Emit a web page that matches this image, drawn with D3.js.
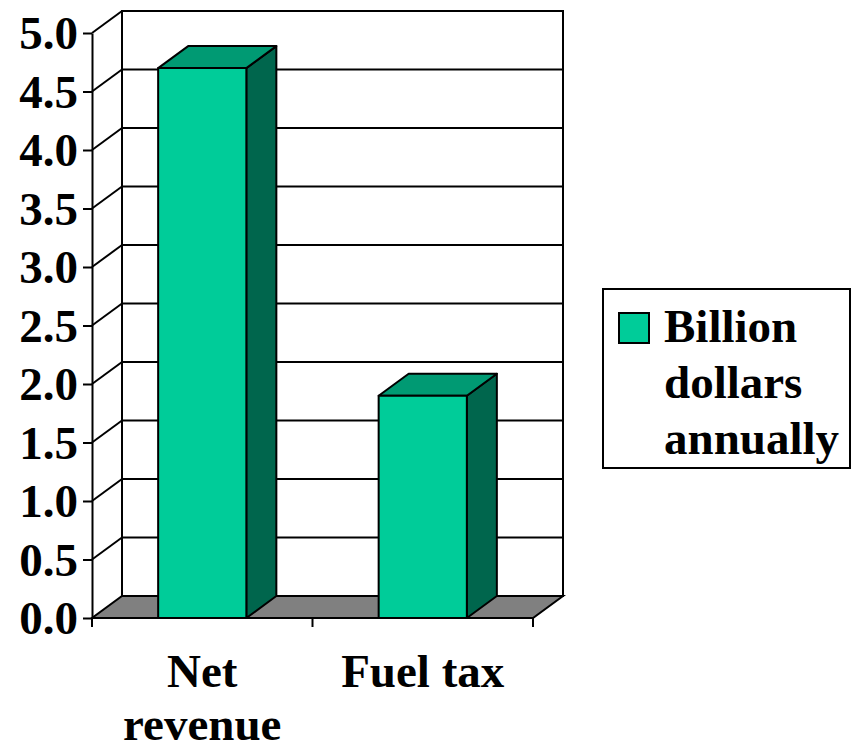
<!DOCTYPE html>
<html>
<head>
<meta charset="utf-8">
<script src="https://cdn.jsdelivr.net/npm/d3@7"></script>
<style>
  body { margin: 0; background: #fff; }
</style>
</head>
<body>
<div id="chart"></div>
<script>
const categories = [["Net", "revenue"], ["Fuel tax"]];
const values = [4.7, 1.9];
const yTicks = [0, 0.5, 1, 1.5, 2, 2.5, 3, 3.5, 4, 4.5, 5];
const seriesName = ["Billion", "dollars", "annually"];

const width = 853, height = 747;
const depthX = 30, depthY = -22;
const serif = "Liberation Serif";
const front = "#00cc99", topc = "#009a73", side = "#00664d", floorc = "#808080";

const svg = d3.select("#chart").append("svg")
    .attr("width", width)
    .attr("height", height);

const y = d3.scaleLinear().domain([0, 5]).range([618, 33]);
const x = d3.scaleBand()
    .domain(categories.map((d, i) => i))
    .range([92, 533])
    .paddingInner(0.6)
    .paddingOuter(0.3);

const x0 = 92, x1 = 533, y0 = y(0);

// back wall
const wall = svg.append("g").attr("stroke", "#000").attr("stroke-width", 2).attr("fill", "none");
wall.append("rect")
    .attr("x", x0 + depthX).attr("y", y(5) + depthY)
    .attr("width", x1 - x0).attr("height", y0 - y(5))
    .attr("fill", "#fff");

// gridlines on back wall and side wall
wall.selectAll("line.grid")
  .data(yTicks.filter(d => d > 0))
  .join("line")
    .attr("x1", x0 + depthX).attr("x2", x1 + depthX)
    .attr("y1", d => y(d) + depthY).attr("y2", d => y(d) + depthY);

wall.selectAll("line.diag")
  .data(yTicks.filter(d => d > 0))
  .join("line")
    .attr("x1", x0).attr("x2", x0 + depthX)
    .attr("y1", d => y(d)).attr("y2", d => y(d) + depthY);

// floor
svg.append("polygon")
    .attr("points", [[x0, y0], [x1, y0], [x1 + depthX, y0 + depthY], [x0 + depthX, y0 + depthY]].join(" "))
    .attr("fill", floorc)
    .attr("stroke", "#000")
    .attr("stroke-width", 2);

// bars
const bars = svg.append("g").attr("stroke", "#000").attr("stroke-width", 2).attr("stroke-linejoin", "round");
values.forEach((v, i) => {
  const bx = x(i), bw = x.bandwidth(), by = y(v);
  bars.append("polygon")
      .attr("points", [[bx + bw, by], [bx + bw + depthX, by + depthY], [bx + bw + depthX, y0 + depthY], [bx + bw, y0]].join(" "))
      .attr("fill", side);
  bars.append("polygon")
      .attr("points", [[bx, by], [bx + depthX, by + depthY], [bx + bw + depthX, by + depthY], [bx + bw, by]].join(" "))
      .attr("fill", topc);
  bars.append("rect")
      .attr("x", bx).attr("y", by)
      .attr("width", bw).attr("height", y0 - by)
      .attr("fill", front);
});

// y axis
const yAxis = svg.append("g")
    .attr("transform", `translate(${x0},0)`)
    .call(d3.axisLeft(y).tickValues(yTicks).tickFormat(d3.format(".1f")).tickSize(9).tickSizeOuter(0).tickPadding(5));
yAxis.select(".domain").attr("stroke", "#000").attr("stroke-width", 2);
yAxis.selectAll(".tick line").attr("stroke", "#000").attr("stroke-width", 2);
yAxis.selectAll(".tick text")
    .attr("fill", "#000")
    .attr("dy", "0.34em")
    .style("font-family", serif)
    .style("font-weight", "bold")
    .style("font-size", "47px");

// x axis ticks at category boundaries
const xTicks = [x0, x0 + (x1 - x0) / 2, x1];
svg.append("g").selectAll("line")
  .data(xTicks)
  .join("line")
    .attr("x1", d => d).attr("x2", d => d)
    .attr("y1", y0).attr("y2", y0 + 9)
    .attr("stroke", "#000").attr("stroke-width", 2);

// category labels
const labels = svg.append("g").attr("text-anchor", "middle");
categories.forEach((lines, i) => {
  const cx = x(i) + x.bandwidth() / 2;
  const t = labels.append("text").attr("x", cx).attr("y", 687)
      .style("font-family", serif)
      .style("font-weight", "bold")
      .style("font-size", "47px");
  lines.forEach((s, j) => {
    t.append("tspan").attr("x", cx).attr("dy", j === 0 ? 0 : 53).text(s);
  });
});

// legend
const legend = svg.append("g");
legend.append("rect")
    .attr("x", 603).attr("y", 289).attr("width", 247).attr("height", 179)
    .attr("fill", "#fff").attr("stroke", "#000").attr("stroke-width", 2);
legend.append("rect")
    .attr("x", 619).attr("y", 313).attr("width", 30).attr("height", 30)
    .attr("fill", front).attr("stroke", "#000").attr("stroke-width", 2);
const lt = legend.append("text")
    .attr("x", 664).attr("y", 342)
    .style("font-family", serif)
    .style("font-weight", "bold")
    .style("font-size", "47px");
seriesName.forEach((s, j) => {
  lt.append("tspan").attr("x", 664).attr("dy", j === 0 ? 0 : 56).text(s);
});
</script>
</body>
</html>
